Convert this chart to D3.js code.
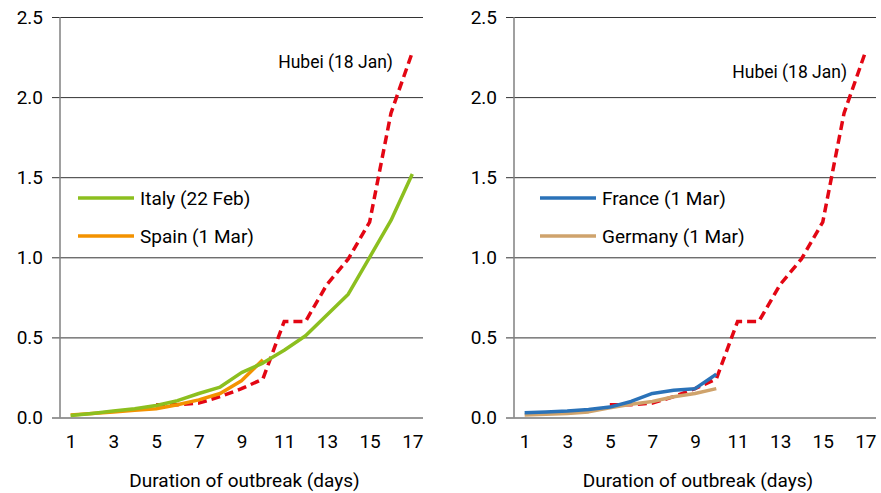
<!DOCTYPE html>
<html>
<head>
<meta charset="utf-8">
<script src="https://cdn.jsdelivr.net/npm/d3@7"></script>
<style>
  body { margin: 0; background: #fff; }
  svg { display: block; font-family: "Roboto", "Liberation Sans", sans-serif; }
</style>
</head>
<body>
<div id="chart"></div>
<script>
// days since outbreak start (category axis)
const days = d3.range(1, 18);
const dayLabels = [1, 3, 5, 7, 9, 11, 13, 15, 17];
const yTicks = [0, 0.5, 1.0, 1.5, 2.0, 2.5];

// Hubei starts at day 5
const hubeiDays = [5, 6, 7, 8, 9, 10, 11, 12, 13, 14, 15, 16, 17];
const hubei = [0.08, 0.08, 0.09, 0.13, 0.18, 0.24, 0.60, 0.60, 0.83, 0.99, 1.22, 1.90, 2.28];

const italy = [0.012, 0.025, 0.04, 0.055, 0.075, 0.105, 0.15, 0.19, 0.28, 0.34, 0.42, 0.51, 0.64, 0.77, 1.0, 1.23, 1.52];
const spain = [0.015, 0.025, 0.035, 0.045, 0.055, 0.08, 0.11, 0.15, 0.23, 0.36];
const france = [0.03, 0.035, 0.04, 0.05, 0.065, 0.10, 0.15, 0.17, 0.18, 0.27];
const germany = [0.015, 0.02, 0.025, 0.035, 0.06, 0.083, 0.10, 0.13, 0.15, 0.18];

const W = 881, H = 493;
const svg = d3.select("#chart").append("svg")
  .attr("width", W)
  .attr("height", H);

const y = d3.scaleLinear().domain([0, 2.5]).range([417.5, 17]);

const line = (x) => d3.line()
  .x(d => x(d[0]))
  .y(d => y(d[1]));

const panels = [
  {
    left: 60, right: 423,
    series: [
      { name: "Italy (22 Feb)", values: italy, color: "#8cbf1f" },
      { name: "Spain (1 Mar)", values: spain, color: "#f39200" }
    ],
    legendX: 78,
    label: { day: 16, val: 2.18, dx: 2 }
  },
  {
    left: 514, right: 876,
    series: [
      { name: "France (1 Mar)", values: france, color: "#2a72b8" },
      { name: "Germany (1 Mar)", values: germany, color: "#cfa36c" }
    ],
    legendX: 540,
    label: { day: 16, val: 2.12, dx: 3 }
  }
];

panels.forEach(p => {
  const g = svg.append("g");
  const x = d3.scalePoint().domain(days).range([p.left, p.right]).padding(0.5);

  // horizontal gridlines with small ticks left of axis
  g.append("g")
    .attr("transform", `translate(${p.left},0)`)
    .call(d3.axisLeft(y).tickValues(yTicks).tickSize(-(p.right - p.left)).tickFormat(""))
    .call(a => a.select(".domain").remove())
    .call(a => a.selectAll("line").attr("stroke", "#333").attr("stroke-width", 1).attr("x2", p.right - p.left).attr("x1", -8));

  // y axis labels
  g.append("g")
    .attr("transform", `translate(${p.left},0)`)
    .call(d3.axisLeft(y).tickValues(yTicks).tickSize(0).tickPadding(17).tickFormat(d3.format(".1f")))
    .call(a => a.select(".domain").remove())
    .call(a => a.selectAll("text").attr("font-size", 19).attr("fill", "#000").attr("font-family", "Roboto, sans-serif"));

  // vertical y axis line
  g.append("line")
    .attr("x1", p.left).attr("x2", p.left)
    .attr("y1", y(2.5)).attr("y2", y(0))
    .attr("stroke", "#808080").attr("stroke-width", 1.5);

  // x axis labels
  g.append("g")
    .attr("transform", `translate(0,${y(0)})`)
    .call(d3.axisBottom(x).tickValues(dayLabels).tickSize(0).tickPadding(17))
    .call(a => a.select(".domain").remove())
    .call(a => a.selectAll("text").attr("font-size", 19).attr("fill", "#000").attr("font-family", "Roboto, sans-serif"));

  g.append("text")
    .attr("x", (p.left + p.right) / 2 + 3)
    .attr("y", 487)
    .attr("text-anchor", "middle")
    .attr("font-size", 19)
    .attr("fill", "#000")
    .text("Duration of outbreak (days)");

  // Hubei dashed line
  g.append("path")
    .datum(hubeiDays.map((d, i) => [d, hubei[i]]))
    .attr("d", line(x))
    .attr("fill", "none")
    .attr("stroke", "#e30613")
    .attr("stroke-width", 3.5)
    .attr("stroke-dasharray", "9,5");

  // country lines
  p.series.slice().reverse().forEach(s => {
    g.append("path")
      .datum(s.values.map((v, i) => [days[i], v]))
      .attr("d", line(x))
      .attr("fill", "none")
      .attr("stroke", s.color)
      .attr("stroke-width", 3.5)
      .attr("stroke-linejoin", "round");
  });

  // Hubei label
  g.append("text")
    .attr("x", x(p.label.day) + p.label.dx)
    .attr("y", y(p.label.val))
    .attr("text-anchor", "end")
    .attr("font-size", 17.5)
    .attr("fill", "#000")
    .text("Hubei (18 Jan)");

  // legend
  p.series.forEach((s, i) => {
    const ly = 198 + i * 38;
    g.append("line")
      .attr("x1", p.legendX).attr("x2", p.legendX + 56)
      .attr("y1", ly).attr("y2", ly)
      .attr("stroke", s.color).attr("stroke-width", 3.5);
    g.append("text")
      .attr("x", p.legendX + 62)
      .attr("y", ly + 7)
      .attr("font-size", 19)
      .attr("fill", "#000")
      .text(s.name);
  });
});
</script>
</body>
</html>
